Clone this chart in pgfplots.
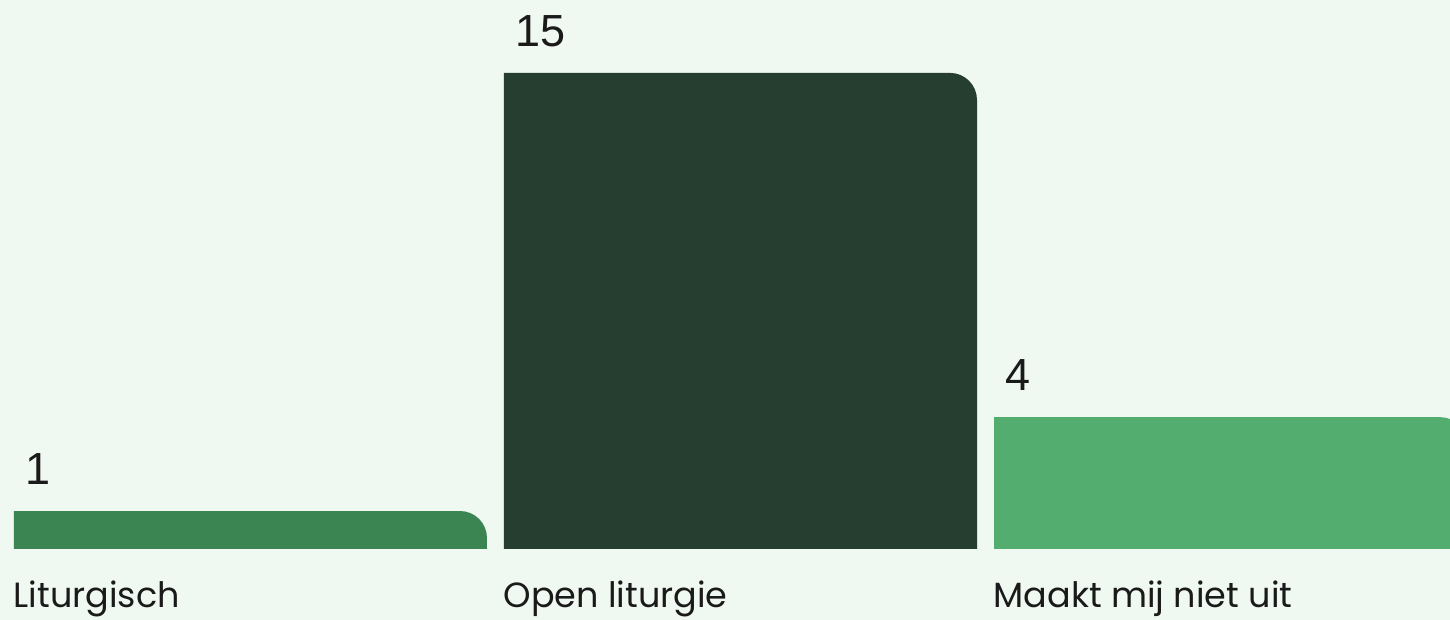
\documentclass[border=0pt]{standalone}
\usepackage{fontspec}
\setmainfont{Liberation Sans}
\newfontfamily\popp{Poppins}
\usepackage{pgfplots}
\pgfplotsset{compat=1.18}
\definecolor{bgc}{RGB}{240,248,242}
\definecolor{cA}{RGB}{59,133,82}
\definecolor{cB}{RGB}{38,62,47}
\definecolor{cC}{RGB}{82,173,110}
\definecolor{txt}{RGB}{26,26,26}
\makeatletter
\newdimen\rbxa \newdimen\rbya \newdimen\rbxb \newdimen\rbyb \newdimen\rbr \newdimen\rbt
\let\origpgfpathrectangle\pgfpathrectangle
\def\roundbarrect#1#2{%
  \pgf@process{#1}\rbxa=\pgf@x \rbya=\pgf@y
  \pgf@process{#2}\rbxb=\pgf@x \rbyb=\pgf@y
  \advance\rbxb by\rbxa \advance\rbyb by\rbya
  \ifdim\rbxb<\rbxa \rbt=\rbxa \rbxa=\rbxb \rbxb=\rbt \fi
  \ifdim\rbyb<\rbya \rbt=\rbya \rbya=\rbyb \rbyb=\rbt \fi
  \advance\rbya by -3.35pt
  \rbr=13.5pt
  \rbt=\rbyb \advance\rbt by-\rbya
  \ifdim\rbr>\rbt \rbr=\rbt\fi
  \pgfpathmoveto{\pgfqpoint{\rbxa}{\rbya}}%
  \pgfpathlineto{\pgfqpoint{\rbxa}{\rbyb}}%
  \rbt=\rbxb \advance\rbt by-\rbr
  \pgfpathlineto{\pgfqpoint{\rbt}{\rbyb}}%
  \pgfpatharc{90}{0}{\the\rbr}%
  \pgfpathlineto{\pgfqpoint{\rbxb}{\rbya}}%
  \pgfpathclose
}
\makeatother
\begin{document}
\begin{tikzpicture}
\fill[bgc] (0,-35.5pt) rectangle (725pt,274.5pt);
\useasboundingbox (0,-35.5pt) rectangle (725pt,274.5pt);
\begin{axis}[
  at={(0,0)}, anchor=south west,
  scale only axis, width=725pt, height=274.5pt,
  xmin=-0.5112, xmax=2.4480, ymin=-0.214, ymax=17.33,
  axis line style={draw=none},
  major tick length=0pt,
  ytick=\empty,
  xtick={0,1,2},
  xticklabels={Liturgisch, Open liturgie, Maakt mij niet uit},
  xticklabel style={font=\popp\fontsize{17.5}{21}\selectfont, text=txt,
    anchor=base west, inner sep=0pt, xshift=-118.6pt, yshift=-29.5pt},
  /pgf/number format/assume math mode=true,
  nodes near coords,
  nodes near coords style={font=\fontsize{22.5}{26}\selectfont, text=txt,
    anchor=south west, inner sep=0pt, xshift=-112.5pt, yshift=13pt},
  execute at begin plot visualization={\let\pgfpathrectangle\roundbarrect},
  execute at end plot visualization={\let\pgfpathrectangle\origpgfpathrectangle},
]
\addplot[ybar, bar width=236.5pt, bar shift=0pt, fill=cA, draw=none] coordinates {(0,1)};
\addplot[ybar, bar width=236.5pt, bar shift=0pt, fill=cB, draw=none] coordinates {(1,15)};
\addplot[ybar, bar width=236.5pt, bar shift=0pt, fill=cC, draw=none] coordinates {(2,4)};
\end{axis}
\end{tikzpicture}
\end{document}
